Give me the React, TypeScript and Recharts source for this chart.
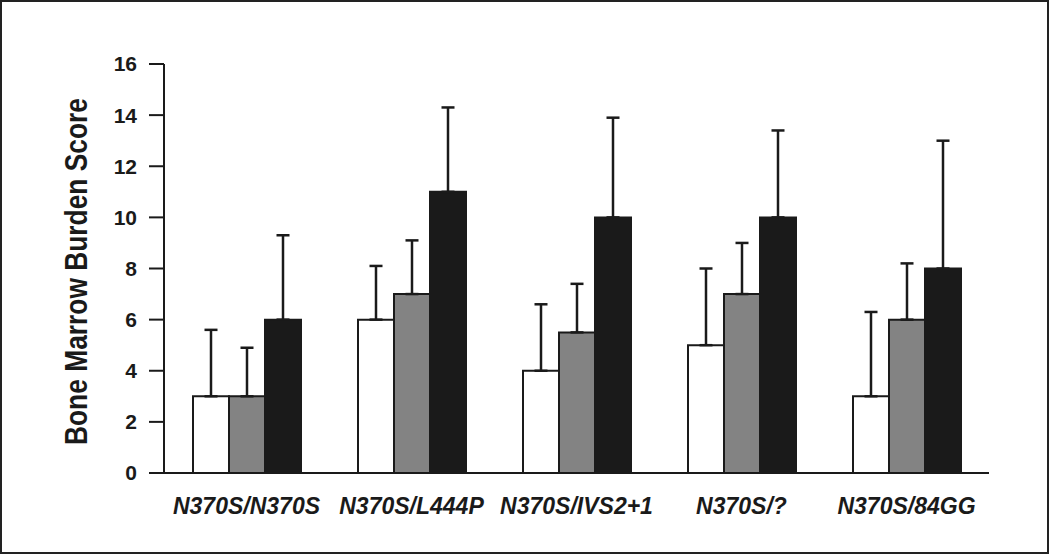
import React from 'react';
import { BarChart, Bar, XAxis, YAxis, ErrorBar } from 'recharts';

const genotypes = ['N370S/N370S', 'N370S/L444P', 'N370S/IVS2+1', 'N370S/?', 'N370S/84GG'];

// mean scores per group (white / gray / black bars)
const whiteMeans = [3, 6, 4, 5, 3];
const grayMeans = [3, 7, 5.5, 7, 6];
const blackMeans = [6, 11, 10, 10, 8];

// upper error (SD) for each bar
const whiteSd = [2.6, 2.1, 2.6, 3.0, 3.3];
const graySd = [1.9, 2.1, 1.9, 2.0, 2.2];
const blackSd = [3.3, 3.3, 3.9, 3.4, 5.0];

const yTicks = [0, 2, 4, 6, 8, 10, 12, 14, 16];

const INK = '#1a1a1a';
const FONT = "'Liberation Sans', Arial, Helvetica, sans-serif";

const data = genotypes.map((name, i) => ({
  name,
  white: whiteMeans[i],
  gray: grayMeans[i],
  black: blackMeans[i],
  whiteErr: [0, whiteSd[i]],
  grayErr: [0, graySd[i]],
  blackErr: [0, blackSd[i]],
}));

const YTitle = (props: any) => {
  const vb = props.viewBox || { x: 0, y: 0, width: 0, height: 0 };
  const cx = vb.x + 76;
  const cy = vb.y + vb.height / 2 + 3;
  return (
    <text
      x={cx}
      y={cy}
      transform={`rotate(-90, ${cx}, ${cy})`}
      textAnchor="middle"
      dominantBaseline="central"
      fontFamily={FONT}
      fontWeight="bold"
      fontSize={31}
      fill={INK}
      textLength={347}
      lengthAdjust="spacingAndGlyphs"
    >
      Bone Marrow Burden Score
    </text>
  );
};

const App: React.FC = () => {
  return (
    <div style={{ position: 'absolute', left: 0, top: 0, width: 1050, height: 555, background: '#fff' }}>
      <div
        style={{
          position: 'absolute',
          left: 0,
          top: 0,
          width: 1049,
          height: 554,
          border: '2.5px solid #222',
          boxSizing: 'border-box',
        }}
      />
      <BarChart
        width={1050}
        height={555}
        data={data}
        margin={{ top: 64, right: 61, bottom: 0, left: 0 }}
        barGap={0}
        barSize={36}
        style={{ position: 'absolute', left: 0, top: 0 }}
      >
        <XAxis
          dataKey="name"
          height={82}
          tickLine={false}
          tickSize={0}
          tickMargin={25}
          axisLine={{ stroke: INK, strokeWidth: 2 }}
          tick={{ fill: INK, fontFamily: FONT, fontWeight: 'bold', fontStyle: 'italic', fontSize: 23 }}
          interval={0}
        />
        <YAxis
          width={164}
          domain={[0, 16]}
          ticks={yTicks}
          interval={0}
          tickSize={15}
          tickMargin={12}
          axisLine={{ stroke: INK, strokeWidth: 2 }}
          tickLine={{ stroke: INK, strokeWidth: 2 }}
          tick={{ fill: INK, fontFamily: FONT, fontWeight: 'bold', fontSize: 21 }}
          label={{ content: <YTitle /> }}
        />
        <Bar dataKey="white" fill="#ffffff" stroke={INK} strokeWidth={2} isAnimationActive={false}>
          <ErrorBar dataKey="whiteErr" direction="y" width={6.5} stroke={INK} strokeWidth={2.5} />
        </Bar>
        <Bar dataKey="gray" fill="#838383" stroke={INK} strokeWidth={2} isAnimationActive={false}>
          <ErrorBar dataKey="grayErr" direction="y" width={6.5} stroke={INK} strokeWidth={2.5} />
        </Bar>
        <Bar dataKey="black" fill="#1a1a1a" stroke={INK} strokeWidth={2} isAnimationActive={false}>
          <ErrorBar dataKey="blackErr" direction="y" width={6.5} stroke={INK} strokeWidth={2.5} />
        </Bar>
      </BarChart>
    </div>
  );
};

export default App;
